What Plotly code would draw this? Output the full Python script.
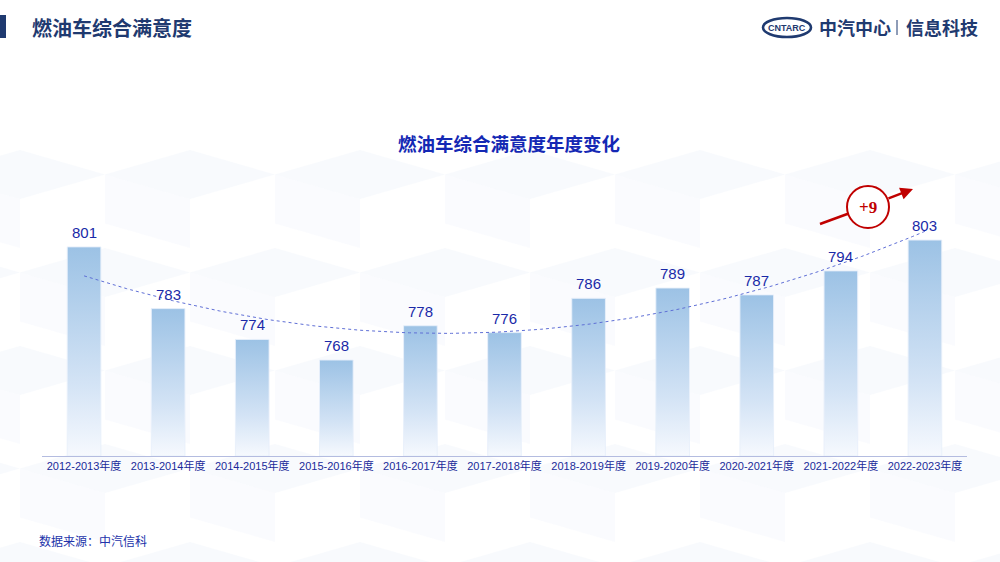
import numpy as np
import plotly.graph_objects as go

categories = ["2012-2013年度", "2013-2014年度", "2014-2015年度", "2015-2016年度",
              "2016-2017年度", "2017-2018年度", "2018-2019年度", "2019-2020年度",
              "2020-2021年度", "2021-2022年度", "2022-2023年度"]
scores = [801, 783, 774, 768, 778, 776, 786, 789, 787, 794, 803]
change_label = "+9"

W, H = 1000, 562
def px(x): return x / W
def py(y): return 1 - y / H

Y0, Y1 = 740, 817.6
BAR_HALF = 0.2
FONT = "Liberation Sans, Arial, Noto Sans CJK SC, sans-serif"
CJK = "Noto Sans CJK SC, sans-serif"

fig = go.Figure()

# gradient bars
xs = list(range(len(categories)))
for i, v in zip(xs, scores):
    fig.add_trace(go.Scatter(
        x=[i - BAR_HALF, i + BAR_HALF, i + BAR_HALF, i - BAR_HALF, i - BAR_HALF],
        y=[Y0, Y0, v, v, Y0],
        mode="lines", fill="toself",
        line=dict(color="rgba(232,240,251,0.9)", width=1),
        fillgradient=dict(type="vertical",
                          colorscale=[[0, "#f6f9fe"], [0.35, "#d3e3f5"], [1, "#9cc2e5"]]),
        hoverinfo="skip", showlegend=False))

# polynomial (order 2) trendline
coef = np.polyfit(xs, scores, 2)
tx = np.linspace(0, len(xs) - 1, 200)
fig.add_trace(go.Scatter(
    x=tx, y=np.polyval(coef, tx), mode="lines",
    line=dict(color="#5f6fd6", width=1, dash="dot"),
    hoverinfo="skip", showlegend=False))

shapes = []
# faint isometric cube background
cw, ch = 170, 98
for row in range(-1, 8):
    for col in range(-1, 8):
        cx = col * cw + (cw / 2 if row % 2 else 0) + 20
        cy = 150 + row * ch * 1.0
        top = f"M {px(cx)},{py(cy)} L {px(cx+cw/2)},{py(cy+ch/4)} L {px(cx)},{py(cy+ch/2)} L {px(cx-cw/2)},{py(cy+ch/4)} Z"
        left = f"M {px(cx-cw/2)},{py(cy+ch/4)} L {px(cx)},{py(cy+ch/2)} L {px(cx)},{py(cy+ch)} L {px(cx-cw/2)},{py(cy+3*ch/4)} Z"
        if cy < 130:
            continue
        shapes.append(dict(type="path", path=top, xref="paper", yref="paper",
                           fillcolor="rgba(232,239,250,0.3)", line=dict(width=0), layer="below"))
        shapes.append(dict(type="path", path=left, xref="paper", yref="paper",
                           fillcolor="rgba(240,244,252,0.35)", line=dict(width=0), layer="below"))

# header bar
shapes.append(dict(type="rect", xref="paper", yref="paper",
                   x0=px(0), x1=px(6), y0=py(38), y1=py(15),
                   fillcolor="#1f3a70", line=dict(width=0)))
# logo ellipse
shapes.append(dict(type="circle", xref="paper", yref="paper",
                   x0=px(763), x1=px(811), y0=py(37), y1=py(18),
                   fillcolor="white", line=dict(color="#1f3a70", width=2.6)))
# logo separator
shapes.append(dict(type="line", xref="paper", yref="paper",
                   x0=px(897), x1=px(897), y0=py(35), y1=py(20),
                   line=dict(color="#1f3a70", width=1)))
# red arrow left segment
shapes.append(dict(type="line", xref="paper", yref="paper",
                   x0=px(820), y0=py(224), x1=px(850), y1=py(213),
                   line=dict(color="#c00000", width=2.5)))
# red circle
shapes.append(dict(type="circle", xref="paper", yref="paper",
                   x0=px(847), x1=px(889), y0=py(228), y1=py(186),
                   fillcolor="white", line=dict(color="#c00000", width=2)))

annotations = [
    dict(text="<b>燃油车综合满意度</b>", x=px(30), y=py(27), xref="paper", yref="paper",
         xanchor="left", yanchor="middle", showarrow=False,
         font=dict(family=CJK, size=20, color="#1f3a70")),
    dict(text="<b>燃油车综合满意度年度变化</b>", x=px(509), y=py(143), xref="paper", yref="paper",
         xanchor="center", yanchor="middle", showarrow=False,
         font=dict(family=CJK, size=18.5, color="#1428b4")),
    dict(text="<b>CNTARC</b>", x=px(787), y=py(27.5), xref="paper", yref="paper",
         xanchor="center", yanchor="middle", showarrow=False,
         font=dict(family="Liberation Sans Narrow, Liberation Sans, sans-serif", size=9, color="#1f3a70")),
    dict(text="<b>中汽中心</b>", x=px(855), y=py(27), xref="paper", yref="paper",
         xanchor="center", yanchor="middle", showarrow=False,
         font=dict(family=CJK, size=18, color="#1f3a70")),
    dict(text="<b>信息科技</b>", x=px(942), y=py(27), xref="paper", yref="paper",
         xanchor="center", yanchor="middle", showarrow=False,
         font=dict(family=CJK, size=18, color="#1f3a70")),
    dict(text="数据来源：中汽信科", x=px(37), y=py(540), xref="paper", yref="paper",
         xanchor="left", yanchor="middle", showarrow=False,
         font=dict(family=CJK, size=12, color="#2233aa")),
    # arrow right segment
    dict(text="", x=px(913), y=py(189), xref="paper", yref="paper",
         ax=-26, ay=10, axref="pixel", ayref="pixel",
         showarrow=True, arrowhead=2, arrowsize=1, arrowwidth=2.5, arrowcolor="#c00000"),
    dict(text="<b>" + change_label + "</b>", x=px(868), y=py(207), xref="paper", yref="paper",
         xanchor="center", yanchor="middle", showarrow=False,
         font=dict(family="Liberation Serif", size=17, color="#c00000")),
]

# value labels above bars (data coordinates)
for i, v in zip(xs, scores):
    annotations.append(dict(text=str(v), x=i, y=v, xref="x", yref="y",
                            xanchor="center", yanchor="bottom", yshift=4,
                            showarrow=False,
                            font=dict(family=FONT, size=15, color="#1a2aa8")))

fig.update_layout(
    width=W, height=H, margin=dict(l=0, r=0, t=0, b=0),
    paper_bgcolor="white", plot_bgcolor="rgba(0,0,0,0)",
    shapes=shapes, annotations=annotations,
    xaxis=dict(domain=[px(42), px(967)], range=[-0.5, len(xs) - 0.5],
               tickmode="array", tickvals=xs, ticktext=categories,
               showgrid=False, zeroline=False, showline=True,
               linecolor="#b4bce0", linewidth=1, ticks="",
               tickfont=dict(family=FONT, size=11, color="#1a2a9a"), fixedrange=True),
    yaxis=dict(domain=[py(456), py(190)], range=[Y0, Y1],
               showgrid=False, zeroline=False, showticklabels=False,
               showline=False, fixedrange=True),
    showlegend=False,
)

fig.write_html("out.html", post_script="document.body.style.margin='0';",
               config={"displayModeBar": False})
